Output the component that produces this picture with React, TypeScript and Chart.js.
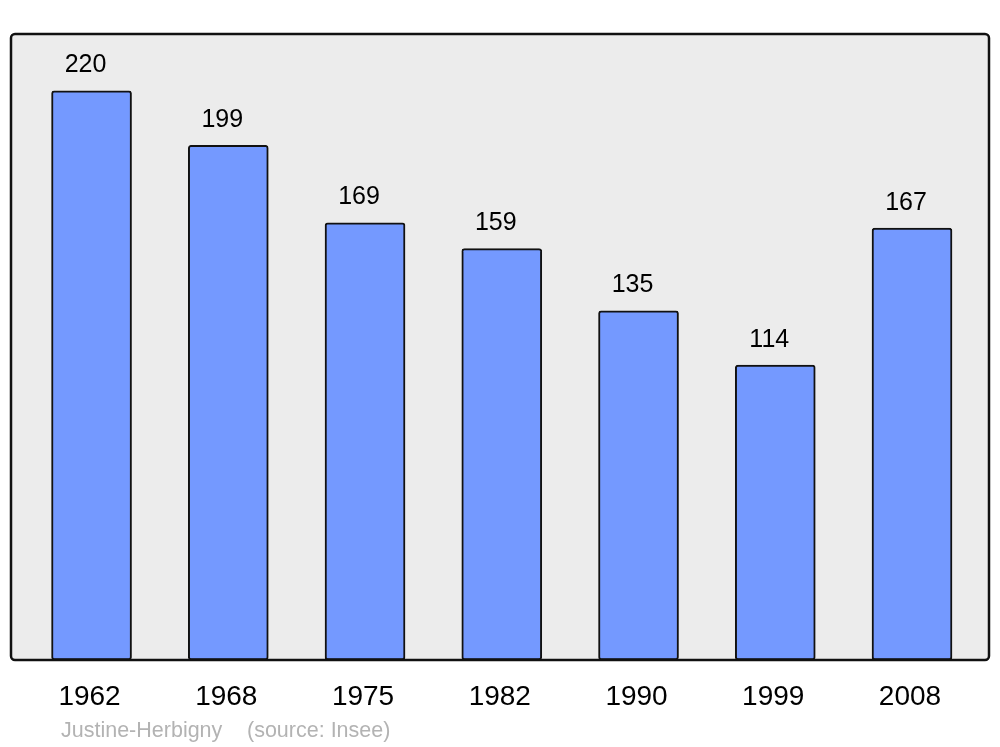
import React, { useEffect, useRef } from "react";
import { Chart, registerables } from "chart.js";

Chart.register(...registerables);

const years = ["1962", "1968", "1975", "1982", "1990", "1999", "2008"];
const population = [220, 199, 169, 159, 135, 114, 167];
const footerAuthor = "Justine-Herbigny";
const footerSource = "(source: Insee)";

const FONT = "'Liberation Sans', Arial, sans-serif";

const decorPlugin = {
  id: "decor",
  beforeDatasetsDraw(chart: any) {
    const { ctx, chartArea } = chart;
    const { left, top, right, bottom } = chartArea;
    ctx.save();
    ctx.beginPath();
    (ctx as any).roundRect(left, top, right - left, bottom - top, 4);
    ctx.fillStyle = "#ececec";
    ctx.fill();
    ctx.restore();
  },
  afterDatasetsDraw(chart: any) {
    const { ctx, chartArea, scales } = chart;
    const { left, top, right, bottom } = chartArea;
    ctx.save();
    ctx.beginPath();
    (ctx as any).roundRect(left, top, right - left, bottom - top, 4);
    ctx.lineWidth = 2.5;
    ctx.strokeStyle = "#111111";
    ctx.stroke();

    const xs = scales.x;
    const ys = scales.y;
    ctx.fillStyle = "#000000";
    ctx.textAlign = "center";
    ctx.textBaseline = "alphabetic";
    // value labels
    ctx.font = `25px ${FONT}`;
    population.forEach((v, i) => {
      const x = xs.getPixelForValue(i);
      const y = ys.getPixelForValue(v);
      ctx.fillText(String(v), x - 6, y - 18.5);
    });
    // category labels
    ctx.font = `28px ${FONT}`;
    years.forEach((yr, i) => {
      const x = xs.getPixelForValue(i);
      ctx.fillText(yr, x - 2, bottom + 45);
    });
    // footer
    ctx.font = `21.5px ${FONT}`;
    ctx.fillStyle = "#b3b3b3";
    ctx.textAlign = "left";
    ctx.fillText(footerAuthor, 61, bottom + 77);
    ctx.fillText(footerSource, 247, bottom + 77);
    ctx.restore();
  },
};

export default function App() {
  const ref = useRef<HTMLCanvasElement>(null);
  useEffect(() => {
    if (!ref.current) return;
    const chart = new Chart(ref.current, {
      type: "bar",
      data: {
        datasets: [
          {
            data: population.map((v, i) => ({ x: i, y: v })),
            backgroundColor: "#7499ff",
            borderColor: "#111111",
            borderWidth: 2,
            borderRadius: 3,
            borderSkipped: false,
            barThickness: 80,
          },
        ],
      },
      options: {
        animation: false,
        responsive: false,
        maintainAspectRatio: false,
        devicePixelRatio: 1,
        layout: { padding: { left: 11, top: 34, right: 11, bottom: 87 } },
        plugins: {
          legend: { display: false },
          tooltip: { enabled: false },
          title: { display: false },
        },
        scales: {
          x: {
            type: "linear",
            min: -0.589,
            max: 6.563,
            display: false,
            offset: false,
          },
          y: {
            min: 0,
            max: 242,
            display: false,
          },
        },
      },
      plugins: [decorPlugin],
    });
    return () => chart.destroy();
  }, []);
  return (
    <div style={{ position: "fixed", left: 0, top: 0, width: 1000, height: 747, background: "#ffffff" }}>
      <canvas ref={ref} width={1000} height={747} style={{ display: "block", width: 1000, height: 747 }} />
    </div>
  );
}
